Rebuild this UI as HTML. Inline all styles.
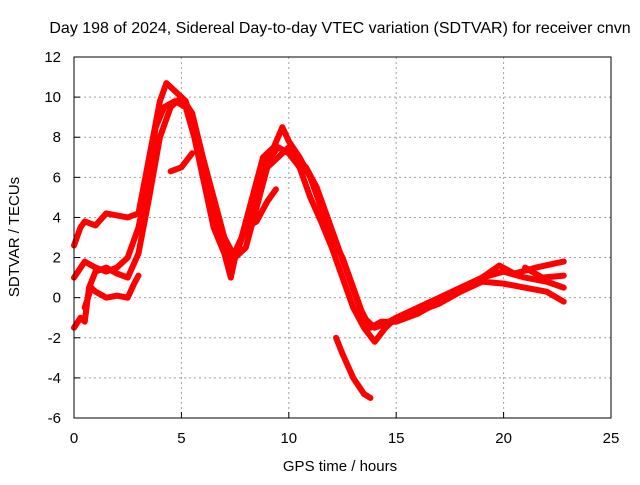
<!DOCTYPE html>
<html><head><meta charset="utf-8"><style>
body{margin:0;background:#fff}
svg text{font-family:"Liberation Sans",sans-serif;font-size:14px;fill:#000}
</style></head><body>
<svg id="chart" width="640" height="480">
<text x="340" y="33" text-anchor="middle" style="font-size:16px">Day 198 of 2024, Sidereal Day-to-day VTEC variation (SDTVAR) for receiver cnvn</text>
<text x="340" y="471" text-anchor="middle" style="font-size:15px">GPS time / hours</text>
<text transform="translate(19,237) rotate(-90)" text-anchor="middle" style="font-size:15px">SDTVAR / TECUs</text>
<g id="grid"></g><g id="ticks"></g><g id="series"></g>
<rect x="74" y="57" width="537" height="361" fill="none" stroke="#000"/>
</svg>
<script>
const xTicks=[0,5,10,15,20,25];
const yTicks=[-6,-4,-2,0,2,4,6,8,10,12];
const seriesA=[[0,2.6],[0.3,3.5],[0.5,3.8],[1,3.6],[1.5,4.2],[2,4.1],[2.5,4.0],[3,4.2],[3.5,7],[4,9.8],[4.3,10.7],[4.8,10.2],[5.2,9.8],[5.5,8.8],[6,6],[6.5,3.5],[7,2.2],[7.3,1],[7.5,2],[8,3.5],[8.5,5.5],[9,6.8],[9.5,7.5],[10,7.2],[10.5,6.5],[11,5],[11.5,3.8],[12,2.5],[12.5,1],[13,-0.5],[13.5,-1.5],[14,-2.2],[14.5,-1.5],[15,-1],[16,-0.7],[17,-0.3],[18,0.3],[19,0.8],[20,0.7],[21,0.5],[22,0.3],[22.8,-0.2]];
const seriesB=[[0,1.0],[0.5,1.8],[1,1.5],[1.5,1.3],[2,1.5],[2.5,2],[3,3.5],[3.5,6],[3.8,8.5],[4.2,9.5],[4.7,9.8],[5.2,9.5],[5.6,8],[6,6],[6.5,4],[7,2.5],[7.3,1.8],[7.8,3],[8.3,5],[8.8,7],[9.3,7.5],[9.7,8.5],[10,7.8],[10.5,7],[11,6],[11.5,4.5],[12,3],[12.5,2],[13,0.5],[13.5,-1],[14,-1.5],[14.5,-1.3],[15,-1],[16,-0.5],[17,0],[18,0.5],[19,1],[20,1.3],[21,1],[22,0.8],[22.8,0.5]];
const seriesC=[[0,-1.5],[0.3,-1.0],[0.5,-1.2],[0.7,0.5],[1,1.3],[1.5,1.5],[2,1.2],[2.5,1.0],[3,2.2],[3.5,5],[4,8],[4.5,9.5],[5,10],[5.5,9.2],[6,7],[6.5,5],[7,3],[7.5,2],[8,2.5],[8.5,4.5],[9,6.5],[9.5,7.0],[10,7.5],[10.3,7],[10.8,6.5],[11.3,5.5],[11.8,4],[12.3,2.5],[12.8,1],[13.3,-0.5],[13.8,-1.5],[14.3,-1.2],[15,-1.2],[16,-0.8],[17,-0.2],[18,0.4],[19,1],[19.8,1.6],[20.5,1.2],[21.5,1.5],[22.8,1.8]];
const seriesD=[[0.5,-0.5],[0.8,0.5],[1,0.3],[1.5,0],[2,0.1],[2.5,0],[2.8,0.7],[3,1.1]];
const seriesE=[[4.5,6.3],[5,6.5],[5.5,7.2]];
const seriesF=[[8,3.5],[8.5,3.8],[9,4.8],[9.4,5.4]];
const seriesG=[[12.2,-2],[12.5,-2.8],[13,-4],[13.5,-4.8],[13.8,-5]];
const seriesH=[[21,1.5],[21.8,1.0],[22.8,1.1]];
const allSeries=[seriesA,seriesB,seriesC,seriesD,seriesE,seriesF,seriesG,seriesH];
const NS='http://www.w3.org/2000/svg';
const X=v=>74+v*(537/25), Y=v=>418-(v+6)*(361/18);
const grid=document.getElementById('grid'),ticks=document.getElementById('ticks'),ser=document.getElementById('series');
function mk(tag,a,p){const e=document.createElementNS(NS,tag);for(const k in a)e.setAttribute(k,a[k]);p.appendChild(e);return e;}
xTicks.forEach(t=>{
 if(t>0&&t<25){const g=mk('line',{x1:X(t),x2:X(t),y1:57,y2:418,stroke:'#a0a0a0','stroke-dasharray':'2,3'},grid);
 
 }
 const tx=mk('text',{x:X(t),y:443,'text-anchor':'middle',style:'font-size:15px'},ticks);tx.textContent=t;
 
 
 mk('line',{x1:X(t),x2:X(t),y1:418,y2:412,stroke:'#000'},ticks);
});
yTicks.forEach(t=>{
 if(t>-6&&t<12){const g=mk('line',{x1:74,x2:611,y1:Y(t),y2:Y(t),stroke:'#a0a0a0','stroke-dasharray':'2,3'},grid);
 
 }
 const tx=mk('text',{x:61,y:Y(t)+5,'text-anchor':'end',style:'font-size:15px'},ticks);tx.textContent=t;
 
 
 mk('line',{x1:74,x2:80,y1:Y(t),y2:Y(t),stroke:'#000'},ticks);
});
allSeries.forEach((s,i)=>{
 const p=mk('polyline',{points:s.map(d=>X(d[0])+','+Y(d[1])).join(' '),fill:'none',stroke:'#f00','stroke-width':6,'stroke-linejoin':'round','stroke-linecap':'round'},ser);
 
 
});
</script>
</body></html>
